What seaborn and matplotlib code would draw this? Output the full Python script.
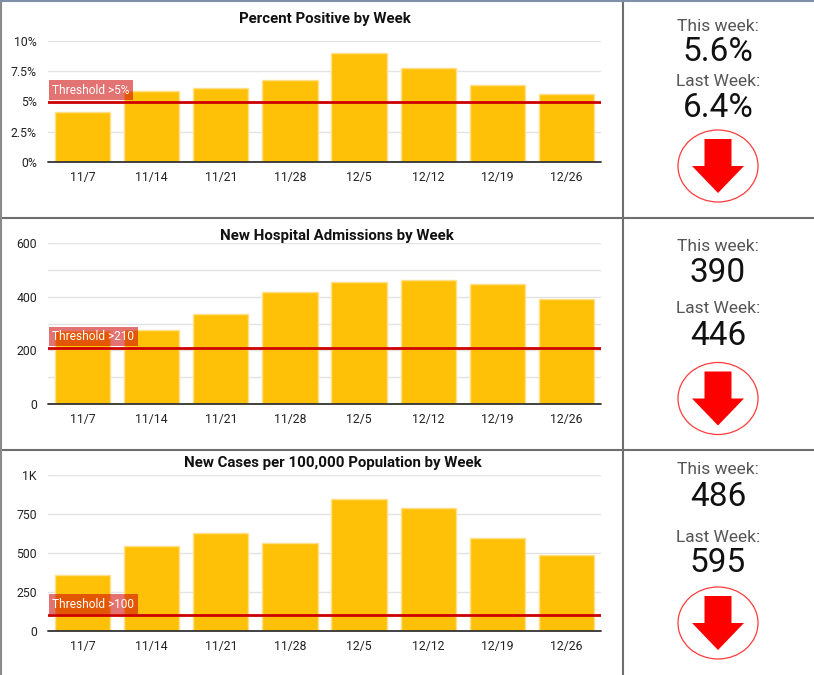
import matplotlib.pyplot as plt
import pandas as pd
import seaborn as sns
from matplotlib.lines import Line2D
from matplotlib.patches import Ellipse, FancyArrow

# Data
weeks = ["11/7", "11/14", "11/21", "11/28", "12/5", "12/12", "12/19", "12/26"]
pct_positive = [4.1, 5.9, 6.1, 6.8, 9.0, 7.8, 6.4, 5.6]
admissions = [272, 277, 337, 416, 456, 462, 446, 390]
cases_per_100k = [361, 544, 629, 567, 845, 790, 595, 486]

titles = ["Percent Positive by Week", "New Hospital Admissions by Week",
          "New Cases per 100,000 Population by Week"]
thresholds = [5, 210, 100]
threshold_labels = ["Threshold >5%", "Threshold >210", "Threshold >100"]
y_ticks = [[0, 2.5, 5, 7.5, 10], [0, 200, 400, 600], [0, 250, 500, 750, 1000]]
y_ticklabels = [["0%", "2.5%", "5%", "7.5%", "10%"], ["0", "200", "400", "600"],
                ["0", "250", "500", "750", "1K"]]
y_minor = [[], [100, 300, 500], []]

this_week = ["5.6%", "390", "486"]
last_week = ["6.4%", "446", "595"]

sns.set_theme(style="white")
plt.rcParams["font.family"] = ["Roboto", "DejaVu Sans"]

W, H = 814, 675
fig = plt.figure(figsize=(W / 100, H / 100), dpi=100)


def px_axes(left, top, right, bottom):
    return fig.add_axes([left / W, 1 - bottom / H, (right - left) / W, (bottom - top) / H])


# pixel layout of each row: (axes top, axes bottom, title baseline, title center x)
rows = [(41, 162, 22.5, 325), (243, 404, 240, 337), (475, 631, 466.5, 333)]
series = [pct_positive, admissions, cases_per_100k]

for i, (top, bottom, title_y, title_x) in enumerate(rows):
    ax = px_axes(48, top, 601, bottom)
    df = pd.DataFrame({"week": weeks, "value": series[i]})
    sns.barplot(data=df, x="week", y="value", color="#FFC107", saturation=1,
                edgecolor="#FFE08A", linewidth=1, width=0.8, ax=ax, zorder=2)
    ax.set_ylim(y_ticks[i][0], y_ticks[i][-1])
    ax.set_xlim(-0.5, len(weeks) - 0.5)
    ax.set_yticks(y_ticks[i])
    ax.set_yticklabels(y_ticklabels[i])
    if y_minor[i]:
        ax.set_yticks(y_minor[i], minor=True)
    ax.grid(axis="y", which="both", color="#E3E3E3", lw=1, zorder=0)
    ax.set_axisbelow(True)
    ax.tick_params(axis="both", which="both", length=0, labelsize=8.8, colors="#222222")
    ax.tick_params(axis="x", pad=6.5)
    ax.tick_params(axis="y", pad=8)
    ax.set_xlabel("")
    ax.set_ylabel("")
    for s in ax.spines.values():
        s.set_visible(False)
    ax.axhline(0, color="#333333", lw=1.3, zorder=4, clip_on=False)

    ax.axhline(thresholds[i], color="#CC0000", lw=2, zorder=5)
    ax.annotate(threshold_labels[i], xy=(0, thresholds[i]), xycoords=ax.get_yaxis_transform(),
                xytext=(3.2, 3.4), textcoords="offset points", ha="left", va="bottom",
                color="white", fontsize=8.6, zorder=6,
                bbox=dict(boxstyle="square,pad=0.28", fc="#CC0000", ec="none", alpha=0.55))

    fig.text(title_x / W, 1 - title_y / H, titles[i], ha="center", va="baseline",
             fontsize=10.8, fontweight="bold", color="#111111")

# right-hand summary panels: baselines of the four text lines and icon center
stat_rows = [(30.7, 61, 86, 116.7, 166), (251, 282, 313, 344.7, 398.5),
             (474, 506, 541.7, 571.7, 623)]
cx = 718
for i, (b1, b2, b3, b4, icon_y) in enumerate(stat_rows):
    fig.text(cx / W, 1 - b1 / H, "This week:", ha="center", va="baseline",
             fontsize=12.5, color="#555555")
    fig.text(cx / W, 1 - b2 / H, this_week[i], ha="center", va="baseline",
             fontsize=24, color="#111111")
    fig.text(cx / W, 1 - b3 / H, "Last Week:", ha="center", va="baseline",
             fontsize=12.5, color="#555555")
    fig.text(cx / W, 1 - b4 / H, last_week[i], ha="center", va="baseline",
             fontsize=24, color="#111111")

    iax = px_axes(cx - 48, icon_y - 40, cx + 48, icon_y + 40)
    iax.set_xlim(-48, 48)
    iax.set_ylim(40, -40)
    iax.axis("off")
    iax.add_patch(Ellipse((0, 0), 80, 72, fill=False, ec="#FF3B3B", lw=0.9))
    iax.add_patch(FancyArrow(0, -27, 0, 54, width=27, head_width=52, head_length=27,
                             length_includes_head=True, color="#FF0000", lw=0))

# panel borders
border = "#6E6E6E"
for y in (218, 450):
    fig.add_artist(Line2D([0, 1], [1 - y / H, 1 - y / H], transform=fig.transFigure,
                          color=border, lw=1.5))
fig.add_artist(Line2D([623 / W, 623 / W], [0, 1], transform=fig.transFigure, color=border, lw=1.5))
fig.add_artist(Line2D([1 / W, 1 / W], [0, 1], transform=fig.transFigure, color="#8A8A8A", lw=1.5))
fig.add_artist(Line2D([0, 1], [1 - 0.5 / H, 1 - 0.5 / H], transform=fig.transFigure,
                      color="#7F8FA8", lw=1.5))

fig.savefig("out.png", dpi=100)
